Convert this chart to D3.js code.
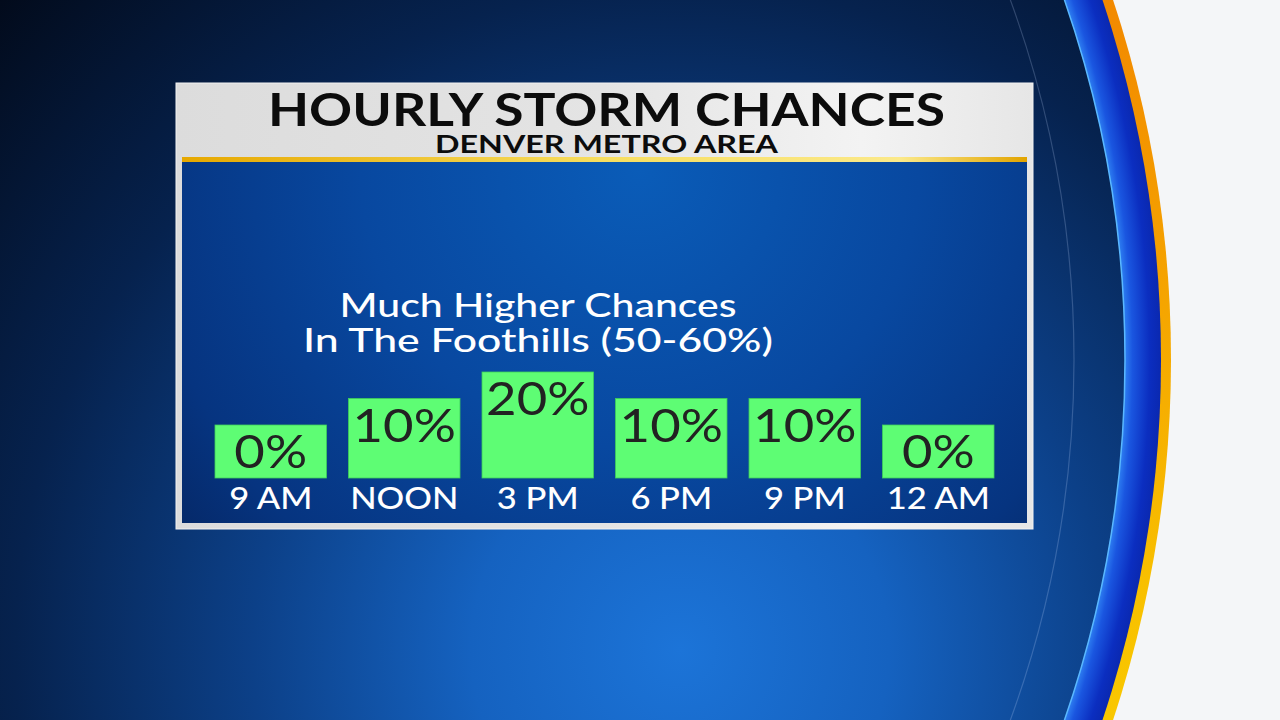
<!DOCTYPE html>
<html>
<head>
<meta charset="utf-8">
<script src="https://cdn.jsdelivr.net/npm/d3@7"></script>
<style>
  html, body { margin: 0; padding: 0; background: #f4f6f8; }
  svg { display: block; }
</style>
</head>
<body>
<script>
// ---- data ----
const times = ["9 AM", "NOON", "3 PM", "6 PM", "9 PM", "12 AM"];
const chances = [0, 10, 20, 10, 10, 0];
const valueLabels = ["0%", "10%", "20%", "10%", "10%", "0%"];
const titleText = "HOURLY STORM CHANCES";
const subtitleText = "DENVER METRO AREA";
const noteLines = ["Much Higher Chances", "In The Foothills (50-60%)"];

const W = 1280, H = 720;
const svg = d3.select("body").append("svg").attr("width", W).attr("height", H);
const defs = svg.append("defs");

// background radial gradient
const bg = defs.append("radialGradient").attr("id", "bg")
  .attr("gradientUnits", "userSpaceOnUse").attr("cx", 680).attr("cy", 650).attr("r", 950);
[[0, "#1c74d8"], [0.22, "#1562c0"], [0.45, "#0c4088"], [0.7, "#06224e"], [1, "#020a1a"]]
  .forEach(([o, c]) => bg.append("stop").attr("offset", o).attr("stop-color", c));

// ring gradient
const ringG = defs.append("radialGradient").attr("id", "ring")
  .attr("gradientUnits", "userSpaceOnUse").attr("cx", 24).attr("cy", 360).attr("r", 1137);
[[0, "#2f80f2"], [0.968, "#2f80f2"], [0.975, "#1a56e0"], [0.99, "#0b2ec0"], [1, "#0a28b0"]]
  .forEach(([o, c]) => ringG.append("stop").attr("offset", o).attr("stop-color", c));

// orange-yellow edge gradient
const edgeG = defs.append("linearGradient").attr("id", "edge")
  .attr("x1", 0).attr("y1", 0).attr("x2", 0).attr("y2", 1);
[[0, "#ee5a00"], [0.35, "#f28a00"], [0.6, "#f8c000"], [1, "#fff200"]]
  .forEach(([o, c]) => edgeG.append("stop").attr("offset", o).attr("stop-color", c));

// header gradient
const hdG = defs.append("linearGradient").attr("id", "hd")
  .attr("x1", 0).attr("y1", 0).attr("x2", 1).attr("y2", 0);
[[0, "#dcdcdc"], [0.5, "#e4e4e4"], [0.8, "#f3f3f3"], [1, "#e6e6e6"]]
  .forEach(([o, c]) => hdG.append("stop").attr("offset", o).attr("stop-color", c));

// yellow rule gradient
const yG = defs.append("linearGradient").attr("id", "yl")
  .attr("x1", 0).attr("y1", 0).attr("x2", 1).attr("y2", 0);
[[0, "#e6a800"], [0.5, "#f7de60"], [0.85, "#fbe98a"], [1, "#e2a400"]]
  .forEach(([o, c]) => yG.append("stop").attr("offset", o).attr("stop-color", c));

// panel gradient
const pG = defs.append("radialGradient").attr("id", "panel")
  .attr("gradientUnits", "userSpaceOnUse").attr("cx", 640).attr("cy", 170).attr("r", 620);
[[0, "#0a5cb8"], [0.45, "#0848a0"], [0.8, "#063480"], [1, "#05245e"]]
  .forEach(([o, c]) => pG.append("stop").attr("offset", o).attr("stop-color", c));

defs.append("clipPath").attr("id", "inner")
  .append("circle").attr("cx", 24).attr("cy", 360).attr("r", 1101);

// ---- background ----
svg.append("rect").attr("width", W).attr("height", H).attr("fill", "#f4f6f8");
svg.append("circle").attr("cx", 24).attr("cy", 360).attr("r", 1147).attr("fill", "url(#edge)");
svg.append("circle").attr("cx", 24).attr("cy", 360).attr("r", 1137).attr("fill", "url(#ring)");
svg.append("rect").attr("width", W).attr("height", H).attr("fill", "url(#bg)")
  .attr("clip-path", "url(#inner)");
svg.append("circle").attr("cx", 24).attr("cy", 360).attr("r", 1101)
  .attr("fill", "none").attr("stroke", "#5ab8ff").attr("stroke-width", 1.5);
svg.append("circle").attr("cx", 24).attr("cy", 360).attr("r", 1050)
  .attr("fill", "none").attr("stroke", "rgba(200,220,255,0.22)").attr("stroke-width", 1.2);

// ---- frame ----
const frame = { x: 176, y: 83, w: 857, h: 446 };
const panel = { x: 182, y: 162, w: 845, h: 361 };
svg.append("rect").attr("x", frame.x).attr("y", frame.y).attr("width", frame.w).attr("height", frame.h)
  .attr("fill", "url(#hd)").attr("stroke", "#f2f2f2").attr("stroke-width", 1);
svg.append("rect").attr("x", panel.x).attr("y", 157).attr("width", panel.w).attr("height", 5)
  .attr("fill", "url(#yl)");
svg.append("rect").attr("x", panel.x).attr("y", panel.y).attr("width", panel.w).attr("height", panel.h)
  .attr("fill", "url(#panel)");

const FONT = "Lato, 'Open Sans', sans-serif";
const cx = frame.x + frame.w / 2 + 2;

function fit(sel, target) {
  sel.attr("textLength", target).attr("lengthAdjust", "spacingAndGlyphs");
}
function stretch(sel, k) {
  sel.each(function () {
    const w = this.getComputedTextLength();
    d3.select(this).attr("textLength", w * k).attr("lengthAdjust", "spacingAndGlyphs");
  });
}

svg.append("text").attr("x", cx).attr("y", 126).attr("text-anchor", "middle")
  .attr("font-family", FONT).attr("font-weight", 700).attr("font-size", 46)
  .attr("fill", "#0c0c0c").text(titleText).call(fit, 677);
svg.append("text").attr("x", cx).attr("y", 153).attr("text-anchor", "middle")
  .attr("font-family", FONT).attr("font-weight", 700).attr("font-size", 25)
  .attr("fill", "#0c0c0c").text(subtitleText).call(fit, 343);

// ---- note ----
svg.append("g").selectAll("text").data(noteLines).join("text")
  .attr("x", 538).attr("y", (d, i) => 317 + i * 35).attr("text-anchor", "middle")
  .attr("font-family", FONT).attr("font-weight", 500).attr("font-size", 33)
  .attr("fill", "#ffffff").text(d => d)
  .each(function (d, i) { d3.select(this).call(fit, [397, 470][i]); });

// ---- bars ----
const x = d3.scaleBand().domain(times).range([215, 994]).paddingInner(0.165).paddingOuter(0);
const y = d3.scaleLinear().domain([-20, 20]).range([478, 372]);

const rows = times.map((t, i) => ({ t, v: chances[i], lab: valueLabels[i] }));

svg.append("g").selectAll("rect").data(rows).join("rect")
  .attr("x", d => x(d.t)).attr("y", d => y(d.v))
  .attr("width", x.bandwidth()).attr("height", d => y(-20) - y(d.v))
  .attr("fill", "#5efd74").attr("stroke", "#3fcf5a").attr("stroke-width", 0.8);

svg.append("g").selectAll("text").data(rows).join("text")
  .attr("x", d => x(d.t) + x.bandwidth() / 2).attr("y", d => y(d.v) + 43)
  .attr("text-anchor", "middle").attr("font-family", FONT).attr("font-weight", 400)
  .attr("font-size", 47).attr("fill", "#222222").text(d => d.lab)
  .call(stretch, 1.12);

const xAxis = d3.axisBottom(x).tickSize(0).tickPadding(0);
const gx = svg.append("g").attr("transform", "translate(0,478)").call(xAxis);
gx.select(".domain").remove();
gx.selectAll("text").attr("y", 31).attr("dy", 0)
  .attr("font-family", FONT).attr("font-weight", 500).attr("font-size", 30)
  .attr("fill", "#ffffff").call(stretch, 1.15);
</script>
</body>
</html>
